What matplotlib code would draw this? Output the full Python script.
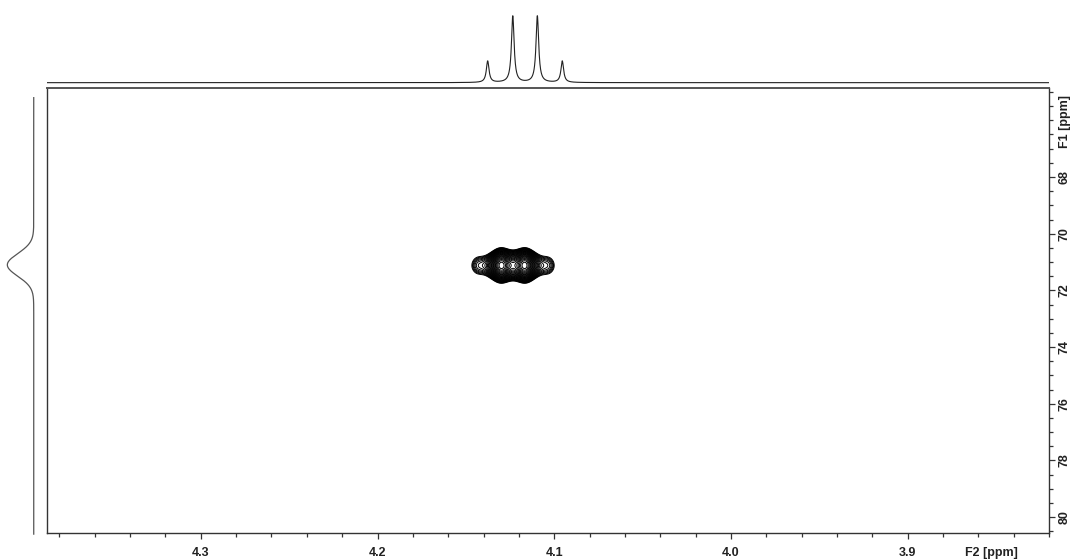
"""HSQC-style 2D NMR plot: contour cross peak with 1H (top) and 13C (left) projections."""
import numpy as np
import matplotlib
matplotlib.use("Agg")
import matplotlib.pyplot as plt

plt.rcParams['font.family'] = ['Liberation Sans', 'DejaVu Sans']

# axis ranges (ppm)
f2_range = (4.3872, 3.8242)
f1_range = (64.87, 80.55)
f2_major = [4.3, 4.2, 4.1, 4.0, 3.9]
f1_major = [68, 70, 72, 74, 76, 78, 80]

# 1H projection: quartet
h1_shifts = [4.1395, 4.1254, 4.1116, 4.0976]
h1_heights = [1.0, 3.1, 3.1, 1.0]
h1_fwhm = 0.0018

# 13C projection: one broad line
c13_shift = 71.1
c13_height = 0.9
c13_sigma = 0.40

# cross peak
cross_f2 = [4.1440, 4.1302, 4.1164, 4.1026]
cross_heights = [1.0, 3.0, 3.0, 1.0]
cross_f2_fwhm = 0.013
cross_f1 = 71.12
cross_f1_sigma = 0.45
cross_left_edge = 4.1466   # outermost contour reaches here


def lorentz(x, x0, fwhm):
    g = fwhm / 2
    return g**2 / ((x - x0)**2 + g**2)


def cross_f2_shape(x):
    s = np.zeros_like(np.asarray(x, dtype=float))
    for p, h in zip(cross_f2, cross_heights):
        s = s + h * lorentz(x, p, cross_f2_fwhm)
    return s


W, H = 1074, 560
fig = plt.figure(figsize=(W / 100, H / 100), dpi=100)

L, R, B, T = 46.7, 1049, 532.7, 88.3
ax = fig.add_axes([L / W, 1 - B / H, (R - L) / W, (B - T) / H])
ax_top = fig.add_axes([L / W, 1 - 86 / H, (R - L) / W, 86 / H])
ax_left = fig.add_axes([0, 1 - B / H, 44 / W, (B - T) / H])

# --- 2D contours
x2 = np.linspace(4.17, 4.075, 700)
y2 = np.linspace(69.5, 72.7, 320)
X, Y = np.meshgrid(x2, y2)
Z = cross_f2_shape(X) * np.exp(-(Y - cross_f1)**2 / (2 * cross_f1_sigma**2))
lowest = cross_f2_shape(np.array([cross_left_edge]))[0]
levels = np.geomspace(lowest, 0.97 * Z.max(), 26)
ax.contour(X, Y, Z, levels=levels, colors='black', linewidths=0.7)

ax.set_xlim(*f2_range)
ax.set_ylim(f1_range[1], f1_range[0])

ax.yaxis.tick_right()
ax.set_xticks(f2_major)
ax.set_xticks(np.arange(4.38, 3.82, -0.02), minor=True)
ax.set_yticks(f1_major)
ax.set_yticks(np.arange(65.0, 80.51, 0.5), minor=True)
ax.set_xticklabels([f"{v:.1f}" for v in f2_major], fontsize=9, fontweight='bold')
ax.set_yticklabels([str(v) for v in f1_major], fontsize=9, fontweight='bold',
                   rotation=90, va='center')
ax.tick_params(axis='x', which='major', direction='out', length=4.5, width=0.9,
               pad=6, colors='#333333', labelcolor='#222222')
ax.tick_params(axis='x', which='minor', direction='out', length=3, width=0.9,
               colors='#333333')
ax.tick_params(axis='y', which='major', direction='out', length=4.5, width=0.9,
               pad=2.5, colors='#333333', labelcolor='#222222')
ax.tick_params(axis='y', which='minor', direction='out', length=3, width=0.9,
               colors='#333333')
for s in ax.spines.values():
    s.set_color('#333333')
    s.set_linewidth(1.0)
ax.spines['top'].set_linewidth(1.4)
ax.spines['top'].set_color('#555555')

fig.text(991 / W, 1 - 553 / H, "F2 [ppm]", ha='center', va='center',
         fontsize=9, fontweight='bold', color='#222222')
fig.text(1065 / W, 1 - 122 / H, "F1 [ppm]", ha='center', va='center',
         rotation=90, fontsize=9, fontweight='bold', color='#222222')

# --- 1H projection on top
xh = np.linspace(f2_range[0], f2_range[1], 6000)
yh = np.zeros_like(xh)
for p, h in zip(h1_shifts, h1_heights):
    yh += h * lorentz(xh, p, h1_fwhm)
ax_top.plot(xh, yh, color='#222222', lw=0.8)
ax_top.set_xlim(*f2_range)
ax_top.set_ylim(-0.155, 3.845)
ax_top.axis('off')

# --- 13C projection on the left
yc = np.linspace(65.2, 80.6, 800)
xc = c13_height * np.exp(-(yc - c13_shift)**2 / (2 * c13_sigma**2))
ax_left.plot(xc, yc, color='#555555', lw=0.9, clip_on=False)
ax_left.set_xlim(1.15, -0.35)
ax_left.set_ylim(f1_range[1], f1_range[0])
ax_left.axis('off')

fig.savefig("out.png", dpi=100)
